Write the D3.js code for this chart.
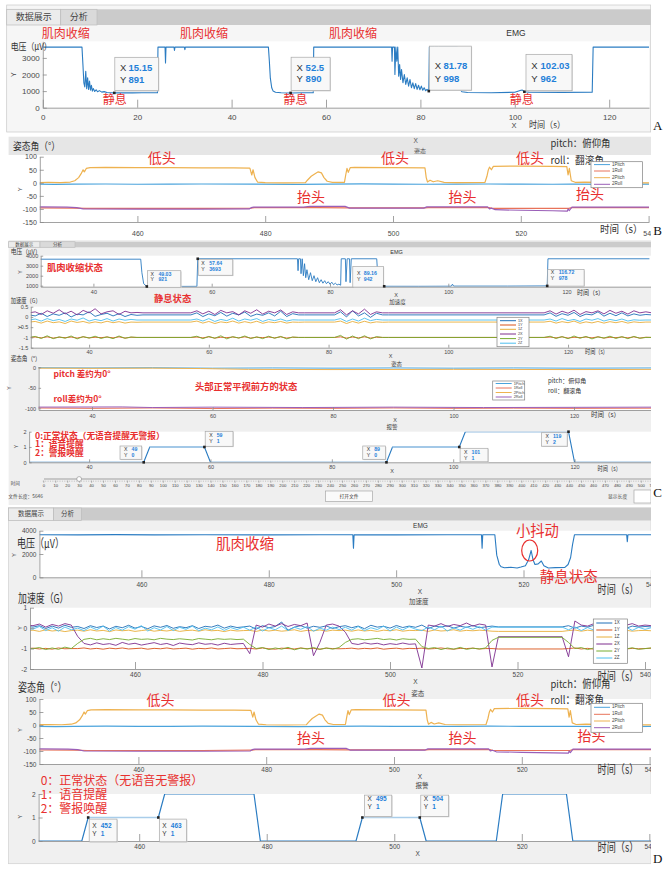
<!DOCTYPE html>
<html>
<head>
<meta charset="utf-8">
<script src="https://cdn.jsdelivr.net/npm/d3@7"></script>
<style>body{margin:0;background:#fff}</style>
</head>
<body>
<script>
// ---------- data ----------
// EMG (panel A, 0-128 s)
const emgA = [[0,3650],[8.3,3650],[8.5,2600],[8.7,1500],[8.9,1250],[9.1,2200],[9.3,1150],[9.5,1800],[9.7,1100],[9.9,1600],[10.1,1050],[10.3,1350],[10.5,1000],[10.7,1150],[11.0,980],[11.3,1080],[11.6,960],[12.0,1030],[12.5,940],[13.0,970],[13.6,920],[14.4,905],[15.15,891],[17,905],[19,895],[21,905],[23,900],[24.3,905],[24.4,3650],[25.9,3650],[26.0,2700],[26.1,3650],[27.8,3650],[27.9,3450],[28.0,3650],[30.0,3650],[30.1,3500],[30.2,3650],[47.8,3650],[48.0,2800],[48.2,1800],[48.5,1200],[48.8,1000],[49.3,930],[50.5,900],[52.5,890],[55,900],[57.3,905],[57.4,3650],[73.9,3650],[74.0,2800],[74.1,3650],[74.5,3650],[74.6,2000],[74.8,3650],[75.0,2800],[75.2,3650],[75.4,1900],[75.6,2600],[75.8,1700],[76.0,2300],[76.3,1500],[76.6,2000],[76.9,1400],[77.2,1800],[77.5,1300],[77.8,1700],[78.1,1200],[78.4,1500],[78.7,1150],[79.0,1450],[79.3,1100],[79.6,1350],[79.9,1080],[80.2,1300],[80.5,1050],[80.8,1200],[81.1,1020],[81.4,1100],[81.78,998],[81.9,3650],[82.9,3650],[83.0,2500],[83.2,3650],[83.7,3650],[83.8,2600],[84.0,3650],[87.8,3650],[88.0,2000],[88.3,1150],[88.8,960],[90,920],[95,905],[100,930],[101.3,1050],[101.6,1060],[102.03,962],[103,940],[110,925],[116.4,935],[116.6,3650],[128.5,3650]];
const tipsA = [[15.15,891],[52.5,890],[81.78,998],[102.03,962]];

// attitude angles (panels B and D, 444-541 s)
const pitch1 = [[444,-5],[447,-6],[450,-5],[455,-4.5],[460,-5.5],[465,-5],[470,-4.5],[478,-5],[485,-6],[490,-5],[495,-4],[500,-5],[505,-5.5],[510,-5],[515,-4.5],[520,-5],[525,-5.5],[528,-5],[535,-6],[541,-5]];
const roll1 = [[444,-96],[450,-97],[452,-98],[460,-98],[470,-98],[477.8,-97],[478.3,-95],[488,-95],[493,-96],[505,-96],[505.5,-95],[515,-95],[515.5,-98],[527.5,-98],[528,-95],[541,-95]];
const pitch2 = [[444,1],[446,2],[448,1],[449.5,3],[450.2,8],[450.8,20],[451.2,35],[451.5,50],[451.7,42],[452,55],[452.6,58],[455,59],[460,58],[465,58],[470,57.5],[475,57],[477.6,56],[477.9,30],[478.1,50],[478.4,20],[478.8,3],[480,1],[483,0],[486.3,1],[486.6,10],[487.2,25],[487.8,35],[488.3,42],[488.8,38],[489.2,20],[489.7,6],[490.5,2],[492.4,2],[492.6,30],[492.8,55],[493.0,40],[493.3,58],[494,59],[500,58],[505.0,57],[505.2,20],[505.4,3],[505.8,10],[506.3,4],[507,8],[508,2],[510,1],[514.4,2],[514.7,25],[514.9,48],[515.1,60],[515.4,50],[515.7,63],[520,64],[525,63],[527.2,62],[527.4,30],[527.6,55],[527.9,8],[528.5,2],[530,3],[535,1],[541,0]];
const roll2 = [[444,-92],[449,-93],[450.5,-95],[451.5,-100],[460,-101],[470,-101],[477.5,-100],[477.8,-95],[478.2,-93],[486,-93],[487,-90],[492.5,-90],[493.2,-97],[504.8,-97],[505.3,-92],[514.8,-92],[515.1,-100],[515.4,-97],[516,-103],[520,-105],[525,-107],[527.3,-108],[527.4,-100],[527.6,-106],[528,-93],[541,-93]];
const attNames = ["1Pitch","1Roll","2Pitch","2Roll"];

// panel C
const emgC = [[30,3650],[48.0,3650],[48.2,2300],[48.5,1200],[49.03,921],[52,925],[55,930],[57.5,935],[57.64,3693],[74.5,3693],[74.6,2500],[74.7,3693],[75.0,3693],[75.1,2200],[75.3,3693],[75.5,2000],[75.7,3200],[75.9,1800],[76.1,2600],[76.4,1600],[76.7,2300],[77.0,1500],[77.3,2000],[77.6,1400],[77.9,1800],[78.2,1300],[78.5,1600],[78.8,1250],[79.1,1500],[79.4,1200],[79.7,1400],[80.0,1150],[80.3,1350],[80.6,1100],[80.9,1250],[81.2,1080],[81.5,1150],[81.8,1050],[81.9,3693],[82.6,3693],[82.7,1400],[82.9,3693],[83.3,3693],[83.4,1300],[83.6,3693],[87.9,3693],[88.1,1800],[88.4,1000],[89.16,942],[95,940],[100.5,950],[100.7,1150],[100.9,960],[110,960],[116.72,978],[116.85,3693],[134,3693]];
const tipsC = [[49.03,921],[57.64,3693],[89.16,942],[116.72,978]];

const accC_t = [30,31,32,33,34,35,36,37,38,39,40,41,42,43,44,45,46,47,48, 49,57,
  58,59,60,61,62,63,64,65,66,67,68,69,70,71,72,73,74,75, 76,81,
  82,83,84,85,86,87,88,89, 90,116,
  117,118,119,120,121,122,123,124,125,126,127,128,129,130,131,132,133,134];
const accC_1X = [0.1,0.05,0.18,0.02,0.15,0.08,0.2,0.0,0.14,0.1,0.25,0.03,0.12,0.18,0.05,0.16,0.02,0.12,0.08, 0.1,0.1,
  0.2,0.02,0.15,0.06,0.22,0.04,0.18,0.1,0.24,0.03,0.14,0.08,0.2,0.05,0.28,0.02,0.16,0.1, 0.1,0.1,
  0.25,0.0,0.3,0.05,0.2,-0.02,0.18,0.1, 0.1,0.1,
  0.2,0.03,0.16,0.08,0.22,0.02,0.14,0.1,0.25,0.04,0.18,0.06,0.2,0.05,0.15,0.08,0.12,0.1];
const accC_1Y = [-1.0,-0.98,-1.02,-0.97,-1.03,-0.99,-1.01,-0.98,-1.03,-0.97,-1.02,-0.99,-1.01,-0.98,-1.02,-0.97,-1.03,-0.99,-1.0, -1.0,-1.0,
  -0.98,-1.02,-0.97,-1.03,-0.99,-1.01,-0.98,-1.02,-0.97,-1.03,-0.99,-1.01,-0.98,-1.02,-0.97,-1.03,-0.99,-1.0, -1.0,-1.0,
  -0.97,-1.03,-0.98,-1.02,-0.97,-1.03,-0.99,-1.0, -1.0,-1.0,
  -0.98,-1.02,-0.97,-1.03,-0.99,-1.01,-0.98,-1.02,-0.97,-1.03,-0.99,-1.01,-0.98,-1.02,-0.97,-1.03,-0.99,-1.0];
const accC_1Z = [-0.25,-0.22,-0.3,-0.2,-0.28,-0.24,-0.32,-0.2,-0.27,-0.22,-0.3,-0.24,-0.29,-0.21,-0.28,-0.23,-0.3,-0.25,-0.26, -0.25,-0.25,
  -0.2,-0.3,-0.22,-0.32,-0.24,-0.28,-0.2,-0.3,-0.23,-0.29,-0.21,-0.31,-0.24,-0.28,-0.22,-0.3,-0.25,-0.26, -0.25,-0.25,
  -0.2,-0.32,-0.22,-0.3,-0.21,-0.29,-0.24,-0.26, -0.25,-0.25,
  -0.21,-0.3,-0.23,-0.28,-0.2,-0.31,-0.24,-0.29,-0.22,-0.3,-0.23,-0.28,-0.22,-0.3,-0.24,-0.27,-0.25,-0.25];
const accC_2X = [0.2,0.25,0.12,0.3,0.18,0.35,0.15,0.28,0.1,0.32,0.2,0.4,0.15,0.25,0.3,0.12,0.28,0.2,0.22, 0.2,0.2,
  0.3,0.15,0.28,0.12,0.32,0.2,0.26,0.1,0.3,0.18,0.35,0.14,0.28,0.2,0.34,0.12,0.25,0.2, 0.2,0.2,
  0.35,0.1,0.3,0.15,0.38,0.12,0.25,0.2, 0.2,0.2,
  0.3,0.14,0.28,0.18,0.33,0.12,0.26,0.2,0.3,0.15,0.32,0.18,0.28,0.14,0.3,0.2,0.25,0.2];
const accC_2Y = [-1.0,-0.95,-1.05,-0.92,-1.06,-0.97,-1.04,-0.93,-1.07,-0.96,-1.03,-0.94,-1.05,-0.97,-1.06,-0.93,-1.04,-0.98,-1.0, -1.0,-1.0,
  -0.94,-1.06,-0.95,-1.04,-0.92,-1.07,-0.96,-1.03,-0.93,-1.05,-0.97,-1.06,-0.94,-1.04,-0.95,-1.07,-0.98,-1.0, -1.0,-1.0,
  -0.9,-1.08,-0.93,-1.06,-0.92,-1.07,-0.96,-1.0, -1.0,-1.0,
  -0.94,-1.05,-0.96,-1.06,-0.93,-1.04,-0.95,-1.07,-0.97,-1.03,-0.94,-1.05,-0.96,-1.06,-0.95,-1.04,-1.0,-1.0];
const accC_2Z = [-0.15,-0.1,-0.2,-0.08,-0.18,-0.12,-0.22,-0.1,-0.16,-0.05,-0.2,-0.12,-0.18,-0.08,-0.2,-0.1,-0.16,-0.12,-0.15, -0.15,-0.15,
  -0.1,-0.2,-0.08,-0.22,-0.12,-0.18,-0.06,-0.2,-0.1,-0.16,-0.08,-0.22,-0.12,-0.18,-0.1,-0.2,-0.14,-0.15, -0.15,-0.15,
  -0.08,-0.22,-0.1,-0.2,-0.06,-0.18,-0.12,-0.15, -0.15,-0.15,
  -0.1,-0.2,-0.08,-0.18,-0.12,-0.22,-0.1,-0.16,-0.08,-0.2,-0.12,-0.18,-0.1,-0.2,-0.14,-0.16,-0.15,-0.15];
const accNames = ["1X","1Y","1Z","2X","2Y","2Z"];

const attC_p1 = [[30,-1],[40,-1.5],[50,-1],[60,-2],[70,-1.5],[80,-2],[90,-1.5],[100,-2],[110,-1.5],[120,-2],[134,-1.5]];
const attC_r1 = [[30,-99],[40,-100],[50,-99],[60,-100.5],[70,-99.5],[80,-100],[90,-99],[100,-100],[110,-99.5],[120,-100],[134,-99.5]];
const attC_p2 = [[30,-2],[40,-2.5],[50,-2],[58,-3],[62,-4],[66,-5],[80,-5.5],[100,-5],[120,-5.5],[134,-5]];
const attC_r2 = [[30,-97],[45,-96.5],[50,-98],[60,-97],[75,-98],[90,-97],[105,-98],[120,-97.5],[134,-97]];

const alarmC = [[29,0],[49,0],[50,1],[59,1],[60,0],[89,0],[90,1],[101,1],[102,2],[119,2],[120,0],[134,0]];
const tipsAlarmC = [[49,0],[59,1],[89,0],[101,1],[119,2]];
const hiAlarmC = [[[50,1],[59,1]],[[90,1],[101,1]]];

// panel D
const emgD = [[444,3650],[450,3640],[456,3660],[462,3645],[470,3655],[480,3640],[488,3655],[493.2,3650],[493.3,2500],[493.4,3650],[500,3645],[508,3655],[513.4,3650],[513.5,2500],[513.6,3650],[515.5,3650],[515.8,1900],[516.2,1100],[516.5,900],[517,820],[518,860],[519,800],[519.6,880],[520.3,1000],[520.8,1500],[521.2,2300],[521.5,1500],[521.8,1100],[522.3,1150],[522.8,1400],[523.2,1000],[523.9,800],[525,830],[526.5,850],[527,1100],[527.4,1700],[527.7,2800],[528,3650],[536.2,3650],[536.3,3050],[536.4,3650],[541,3650]];

const accD_t = [443,444,445,446,447,448,449,450,
  451,452,453,454,455,456,457,458,459,460,461,462,463,464,465,466,467,468,469,470,471,472,473,474,475,476,477,
  478,479,480,481,482,483,484,485,486,487,488,489,490,491,492,
  493,494,495,496,497,498,499,500,501,502,503,504,
  505,506,507,508,509,510,511,512,513,514,515,
  516,517,527,
  528,529,530,531,532,533,534,535,536,537,538,539,540,541];
const accD_1X = [0.08,0.05,0.12,-0.02,0.1,0.0,0.14,0.04,
  0.08,-0.02,0.12,0.03,0.1,-0.04,0.09,0.02,0.14,0.0,0.08,-0.03,0.11,0.04,0.13,-0.01,0.07,0.02,0.12,-0.02,0.09,0.05,0.15,0.0,0.1,0.03,0.06,
  0.1,-0.05,0.12,0.02,0.08,0.3,-0.1,0.05,0.12,0.0,0.09,0.04,0.11,-0.02,0.07,
  0.12,0.02,0.1,-0.03,0.14,0.05,0.09,0.0,0.13,0.03,0.1,0.04,
  0.15,-0.02,0.1,0.05,0.12,0.0,0.09,0.04,0.13,0.02,0.06,
  0.1,0.06,0.06,
  0.12,0.0,0.1,0.05,0.14,0.02,0.09,0.04,0.12,-0.01,0.1,0.05,0.08,0.06];
const accD_1Y = [-1.0,-0.98,-1.02,-0.99,-1.03,-0.97,-1.01,-1.0,
  -1.0,-0.97,-1.02,-0.99,-1.03,-0.98,-1.01,-0.97,-1.02,-1.0,-0.98,-1.03,-0.99,-1.01,-0.97,-1.02,-1.0,-0.98,-1.03,-0.99,-1.01,-0.97,-1.02,-1.0,-0.98,-1.01,-1.0,
  -0.99,-1.02,-0.97,-1.01,-1.03,-0.98,-1.0,-1.02,-0.97,-1.01,-0.99,-1.03,-0.98,-1.0,-1.01,
  -1.0,-0.98,-1.02,-0.99,-1.01,-0.97,-1.03,-1.0,-0.98,-1.02,-0.99,-1.0,
  -0.98,-1.02,-1.0,-0.97,-1.01,-1.03,-0.99,-1.0,-0.98,-1.02,-1.0,
  -1.0,-1.02,-1.02,
  -1.0,-0.97,-1.02,-0.99,-1.03,-0.98,-1.01,-1.0,-0.97,-1.02,-0.99,-1.01,-1.0,-0.98];
const accD_1Z = [-0.12,-0.1,-0.16,-0.08,-0.14,-0.11,-0.17,-0.12,
  -0.1,-0.15,-0.08,-0.14,-0.11,-0.17,-0.09,-0.13,-0.1,-0.16,-0.12,-0.08,-0.15,-0.11,-0.14,-0.09,-0.16,-0.12,-0.1,-0.15,-0.08,-0.13,-0.11,-0.17,-0.1,-0.14,-0.12,
  -0.11,-0.16,-0.09,-0.14,-0.1,-0.15,-0.12,-0.08,-0.16,-0.11,-0.13,-0.09,-0.15,-0.1,-0.12,
  -0.1,-0.15,-0.09,-0.14,-0.11,-0.16,-0.1,-0.13,-0.08,-0.15,-0.11,-0.12,
  -0.1,-0.16,-0.09,-0.14,-0.12,-0.08,-0.15,-0.11,-0.13,-0.1,-0.12,
  -0.15,-0.16,-0.16,
  -0.12,-0.09,-0.15,-0.1,-0.14,-0.08,-0.16,-0.11,-0.13,-0.1,-0.15,-0.12,-0.11,-0.13];
const accD_2X = [0.15,0.12,0.2,0.05,0.18,0.1,0.22,0.15,
  -0.4,-0.75,-0.82,-0.72,-0.8,-0.76,-0.84,-0.7,-0.79,-0.74,-0.83,-0.77,-0.71,-0.8,-0.75,-0.85,-0.73,-0.78,-0.81,-0.72,-0.79,-0.76,-0.83,-0.74,-0.8,-0.77,-0.75,
  -1.25,0.15,0.05,0.2,0.1,0.22,0.08,0.18,0.12,0.25,-1.35,-0.7,0.15,0.2,0.1,
  -0.2,-0.75,-0.8,-0.72,-0.78,-0.74,-0.82,-0.76,-0.8,-0.73,-0.79,-0.77,
  -1.95,0.15,0.1,0.22,0.08,0.18,0.12,0.25,0.1,0.2,0.15,
  -1.9,-0.42,-0.42,
  -1.4,0.35,0.15,0.1,0.22,0.12,0.18,0.08,0.2,0.14,0.22,0.1,0.15,0.12];
const accD_2Y = [-1.0,-1.0,-0.95,-1.05,-0.97,-1.04,-0.93,-1.0,
  -0.75,-0.55,-0.5,-0.57,-0.52,-0.56,-0.5,-0.54,-0.58,-0.51,-0.55,-0.53,-0.57,-0.5,-0.54,-0.56,-0.52,-0.55,-0.58,-0.51,-0.54,-0.57,-0.52,-0.55,-0.53,-0.56,-0.54,
  -0.8,-1.0,-0.95,-1.05,-0.97,-1.03,-0.94,-1.06,-0.98,-1.02,-0.95,-1.04,-0.97,-1.03,-0.95,
  -0.7,-0.55,-0.52,-0.57,-0.54,-0.5,-0.56,-0.53,-0.58,-0.52,-0.55,-0.54,
  -0.9,-1.0,-0.95,-1.05,-0.97,-1.03,-0.94,-1.04,-0.98,-1.02,-0.97,
  -0.6,-0.45,-0.45,
  -0.7,-1.0,-0.95,-1.05,-0.97,-1.03,-0.94,-1.06,-0.98,-1.02,-0.96,-1.04,-1.0,-0.97];
const accD_2Z = [-0.02,-0.05,0.08,-0.12,0.02,-0.15,0.05,-0.08,
  0.0,-0.12,0.06,-0.08,0.1,-0.15,0.03,-0.1,0.07,-0.05,0.12,-0.14,0.02,-0.09,0.08,-0.12,0.04,-0.06,0.1,-0.13,0.0,-0.08,0.06,-0.11,0.03,-0.07,0.05,
  -0.1,0.06,-0.14,0.02,-0.08,0.1,-0.12,0.04,-0.06,0.08,-0.15,0.0,-0.1,0.05,-0.07,
  0.04,-0.1,0.08,-0.12,0.02,-0.07,0.1,-0.14,0.05,-0.09,0.07,-0.05,
  -0.12,0.05,-0.08,0.1,-0.14,0.02,-0.1,0.06,-0.06,0.08,-0.1,
  0.05,0.05,0.05,
  -0.08,0.06,-0.12,0.03,-0.1,0.08,-0.14,0.0,-0.07,0.05,-0.11,0.04,-0.06,0.02];

const alarmD = [[444,0],[451,0],[452,1],[463,1],[464,2],[478,2],[479,0],[494,0],[495,1],[504,1],[505,0],[516,0],[517,2],[527,2],[528,0],[541,0]];
const tipsAlarmD = [[452,1],[463,1],[495,1],[504,1]];
const hiAlarmD = [[[452,1],[463,1]],[[495,1],[504,1]]];

const ticksA = [0,20,40,60,80,100,120];
const ticksBD = [460,480,500,520,540];
const ticksC = [40,60,80,100,120];

// ---------- styles ----------
const CJK = "'Noto Sans CJK SC','Noto Sans',sans-serif";
const NUM = "'Liberation Sans','DejaVu Sans',sans-serif";
const SERIF = "'Liberation Serif','DejaVu Serif',serif";
const RED = "#e8302f";
const AX = "#8a8a8a";
const LINEC = "#2b7cc2";
const HIC = "#a9cdea";
const TIPC = "#1f80d8";
const PC = ["#4aa3dc","#e8735a","#eeb250","#9a5fb8"];
const AC = ["#1f6fb8","#d95319","#e8ae3a","#7e2f8e","#77ac30","#4dbeee"];

const svg = d3.select("body").append("svg").attr("width",664).attr("height",871);
const defs = svg.append("defs");
let clipN = 0;
function clipRect(x,y,w,h){
  const id = "cl" + (clipN++);
  defs.append("clipPath").attr("id",id).append("rect").attr("x",x).attr("y",y).attr("width",w).attr("height",h);
  return `url(#${id})`;
}
const root = svg.append("g").attr("clip-path", clipRect(0,0,651,871));

function txt(g, x, y, s, o = {}) {
  const t = g.append("text").attr("x",x).attr("y",y).text(s)
    .attr("font-family", o.ff || CJK).attr("font-size", o.fs || 8)
    .attr("fill", o.c || "#333").attr("font-weight", o.fw || "normal")
    .attr("text-anchor", o.a || "start").attr("dominant-baseline","middle");
  if (o.tl) t.attr("textLength", o.tl).attr("lengthAdjust","spacingAndGlyphs");
  if (o.rot) t.attr("transform", `rotate(-90,${x},${y})`);
  return t;
}
function rect(g, x, y, w, h, fill, stroke) {
  const r = g.append("rect").attr("x",x).attr("y",y).attr("width",w).attr("height",h).attr("fill",fill);
  if (stroke) r.attr("stroke",stroke).attr("stroke-width",0.7);
  return r;
}
function tabs(g, y, h, right, t1, t2, fs) {
  rect(g, t1[0], y, right - t1[0], h, "#cbcbcb");
  rect(g, t1[0], y, t1[1]-t1[0], h, "#ececec", "#bdbdbd");
  rect(g, t2[0], y, t2[1]-t2[0], h, "#dadada", "#bdbdbd");
  txt(g, (t1[0]+t1[1])/2, y+h/2, "数据展示", {fs, a:"middle", c:"#444"});
  txt(g, (t2[0]+t2[1])/2, y+h/2, "分析", {fs, a:"middle", c:"#444"});
}

// axes with inward ticks, MATLAB style
function plot(g, c) {
  const ref = d3.scaleLinear().domain([c.xa[0], c.xa[2]]).range([c.xa[1], c.xa[3]]);
  const x = d3.scaleLinear().domain([ref.invert(c.l), ref.invert(c.r)]).range([c.l, c.r]);
  const y = d3.scaleLinear().domain(c.yd).range([c.b, c.t]);
  rect(g, c.l, c.t, c.r - c.l, c.b - c.t, "#fff");
  const lines = g.append("g").attr("clip-path", clipRect(c.l, c.t, c.r - c.l, c.b - c.t));
  const fmt = d => String(d);
  const xg = g.append("g").attr("transform",`translate(0,${c.b})`)
    .call(d3.axisBottom(x).tickValues(c.xt).tickSizeInner(-c.tk[0]).tickSizeOuter(0).tickPadding(c.pad[0]).tickFormat(fmt));
  const yg = g.append("g").attr("transform",`translate(${c.l},0)`)
    .call(d3.axisLeft(y).tickValues(c.yt).tickSizeInner(-c.tk[1]).tickSizeOuter(0).tickPadding(c.pad[1]).tickFormat(fmt));
  for (const a of [xg, yg]) {
    a.select(".domain").attr("stroke", AX).attr("stroke-width", 0.8);
    a.selectAll(".tick line").attr("stroke", AX).attr("stroke-width", 0.8);
    a.selectAll(".tick text").attr("fill","#4a4a4a").attr("font-size", c.fs).attr("font-family", NUM);
  }
  return {x, y, lines};
}
function line(P, data, color, w) {
  P.lines.append("path").datum(data)
    .attr("d", d3.line().x(d => P.x(d[0])).y(d => P.y(d[1])))
    .attr("fill","none").attr("stroke",color).attr("stroke-width",w || 1).attr("stroke-linejoin","round");
}
function legend(g, x, y, w, h, names, colors, rows, fs, lw) {
  rect(g, x, y, w, h, "#fff", "#808080");
  names.forEach((n, i) => {
    g.append("line").attr("x1",x+3).attr("x2",x+3+lw).attr("y1",rows[i]).attr("y2",rows[i])
      .attr("stroke",colors[i]).attr("stroke-width",1);
    txt(g, x+5+lw, rows[i], n, {fs, ff:NUM, c:"#444"});
  });
}
// datatip: o = [dx, dy, w, h, xOff, valOff, row1, row2]
function tip(g, P, d, o, fs) {
  const px = P.x(d[0]), py = P.y(d[1]);
  const bx = px + o[0], by = py + o[1];
  rect(g, bx+0.8, by+0.8, o[2], o[3], "#d6d6d6");
  rect(g, bx, by, o[2], o[3], "#f8f8f8", "#a8a8a8");
  txt(g, bx+o[4], by+o[6], "X", {fs, ff:NUM, c:"#333"});
  txt(g, bx+o[5], by+o[6], String(d[0]), {fs, ff:NUM, c:TIPC, fw:"bold"});
  txt(g, bx+o[4], by+o[7], "Y", {fs, ff:NUM, c:"#333"});
  txt(g, bx+o[5], by+o[7], String(d[1]), {fs, ff:NUM, c:TIPC, fw:"bold"});
  g.append("rect").attr("x",px-1.3).attr("y",py-1.3).attr("width",2.6).attr("height",2.6).attr("fill","#222");
}
function attLines(P) {
  line(P, pitch1, PC[0], 1.2);
  line(P, roll1, PC[1], 1.2);
  line(P, pitch2, PC[2], 1.2);
  line(P, roll2, PC[3], 1.2);
}
function accLines(P, t, series) {
  series.forEach((s, i) => line(P, d3.zip(t, s), AC[i], 0.9));
}

// ---------- panel A ----------
const gA = root.append("g");
rect(gA, 6.7, 5, 644, 127, "#f6f6f6", "#c9c9c9");
tabs(gA, 9.3, 15.7, 651, [6.7,60.7], [60.7,97], 9);
const PA = plot(gA, {l:42.8, r:649, t:41.3, b:107.7, xa:[0,42.8,120,609.2], yd:[0,4000],
  xt:ticksA, yt:[0,1000,2000,3000], tk:[8,4], pad:[6.8,3], fs:8});
line(PA, emgA, LINEC, 1.1);
txt(gA, 516, 34, "EMG", {fs:8.5, ff:NUM, a:"middle"});
txt(gA, 10.7, 47, "电压（μV）", {fs:9.5, tl:41});
txt(gA, 14, 74.7, "Y", {fs:7, ff:NUM, a:"middle", rot:true, c:"#444"});
txt(gA, 514, 126, "X", {fs:7.5, ff:NUM, a:"middle", c:"#444"});
txt(gA, 529, 126, "时间（s）", {fs:9, tl:36});
[41.7,180,329].forEach(x => txt(gA, x, 35, "肌肉收缩", {fs:12, c:RED}));
[102.7,283.6,509.8].forEach(x => txt(gA, x, 101, "静息", {fs:12, c:RED}));
const tipBoxA = [[0.5,-35.6,43.7,33.4,5.2,13.7,11,22.7],[0.5,-35.7,39,33.4,5.5,14.5,11,22.7],
                 [0.5,-45,42,44,5.5,14.2,20,33],[1.6,-37.4,46,36.4,5.2,14.6,12.4,25]];
tipsA.forEach((d,i) => tip(gA, PA, d, tipBoxA[i], 9.5));

// ---------- panel B ----------
const gB = root.append("g");
rect(gB, 8.6, 136.7, 642.4, 18.3, "#e6e6e6");
const PB = plot(gB, {l:39.8, r:649, t:156.7, b:222, xa:[460,137.4,520,520.8], yd:[-150,100],
  xt:ticksBD, yt:[-150,-100,-50,0,50,100], tk:[6,4], pad:[8.8,3], fs:7});
attLines(PB);
txt(gB, 12.9, 146.7, "姿态角（°）", {fs:10.5, tl:47});
txt(gB, 415.6, 141, "X", {fs:6.5, ff:NUM, a:"middle", c:"#555"});
txt(gB, 420, 151, "姿态", {fs:6, a:"middle", c:"#555"});
txt(gB, 550.5, 144.3, "pitch：俯仰角", {fs:10.5, tl:60});
txt(gB, 550.5, 161, "roll：翻滚角", {fs:10.5, tl:53.5});
txt(gB, 20.5, 189.3, "Y", {fs:6, ff:NUM, a:"middle", rot:true, c:"#444"});
txt(gB, 600, 230, "时间（s）", {fs:10.5, tl:42.6});
[147.8,381,516].forEach(x => txt(gB, x, 159.3, "低头", {fs:14, c:RED}));
[[297,198.3],[448.5,198.3],[576,195]].forEach(p => txt(gB, p[0], p[1], "抬头", {fs:14, c:RED}));
legend(gB, 591, 161.7, 51.6, 26, attNames, PC, [164.6,171,177.7,184.3], 4.5, 16);

// ---------- panel C ----------
const gC = root.append("g");
rect(gC, 8.6, 240, 642.4, 265, "#efefef");
tabs(gC, 241.7, 5.6, 651, [8.6,40], [40,75], 4.5);
// EMG
const PCe = plot(gC, {l:40.7, r:651, t:255.7, b:286.7, xa:[40,93.4,100,448.3], yd:[900,4000],
  xt:ticksC, yt:[1000,2000,3000,4000], tk:[3,2.5], pad:[3.1,2.5], fs:5.5});
line(PCe, emgC, LINEC, 0.9);
txt(gC, 10.7, 252.6, "电压（μV）", {fs:6.5, tl:30});
txt(gC, 396.5, 252.7, "EMG", {fs:5.5, ff:NUM, a:"middle"});
txt(gC, 20.5, 272, "Y", {fs:5, ff:NUM, a:"middle", rot:true, c:"#444"});
txt(gC, 396, 296, "X", {fs:5.5, ff:NUM, a:"middle", c:"#444"});
txt(gC, 577, 293.3, "时间（s）", {fs:6.5, tl:27});
txt(gC, 47, 268.3, "肌肉收缩状态", {fs:9.3, c:RED, fw:"bold"});
txt(gC, 154, 299.3, "静息状态", {fs:9.3, c:RED, fw:"bold"});
const tipBoxC = [[0.6,-15.8,33.4,16.6,3,11,3.6,9.3],[0.5,0.5,34.5,16,3,11,4,10],
                 [-31.4,-19.8,30.6,20.6,4.3,11,7.6,13.3],[0.5,-16.4,36.4,16.6,3,11,3.6,9.3]];
tipsC.forEach((d,i) => tip(gC, PCe, d, tipBoxC[i], 5.2));
// acceleration
const PCa = plot(gC, {l:30.8, r:651, t:306.7, b:347.7, xa:[40,89.1,100,448.3], yd:[-1.5,0.5],
  xt:ticksC, yt:[-1.5,-1,-0.5,0,0.5], tk:[3,2.5], pad:[2.7,2.5], fs:5.5});
accLines(PCa, accC_t, [accC_1X, accC_1Y, accC_1Z, accC_2X, accC_2Y, accC_2Z]);
txt(gC, 10.7, 301, "加速度（G）", {fs:6.5, tl:30});
txt(gC, 397.5, 302, "加速度", {fs:5.5, a:"middle", c:"#444"});
txt(gC, 20.5, 327.3, "Y", {fs:5, ff:NUM, a:"middle", rot:true, c:"#444"});
txt(gC, 390.7, 356.7, "X", {fs:5.5, ff:NUM, a:"middle", c:"#444"});
txt(gC, 585, 352.7, "时间（s）", {fs:6.5, tl:23});
legend(gC, 497, 317.3, 32, 29.4, accNames, AC, [320.7,325,329.3,334,338.6,343.2], 3.8, 16);
// attitude
const PCt = plot(gC, {l:38.6, r:651, t:366.5, b:410, xa:[40,92,120,574], yd:[-104,2],
  xt:ticksC, yt:[-100,-50,0], tk:[3,2.5], pad:[3.8,2.5], fs:5.5});
line(PCt, attC_p1, PC[0], 1);
line(PCt, attC_r1, PC[1], 1);
line(PCt, attC_p2, PC[2], 1);
line(PCt, attC_r2, PC[3], 1);
txt(gC, 10.7, 359, "姿态角（°）", {fs:6.5, tl:30});
txt(gC, 396.5, 364, "姿态", {fs:5.5, a:"middle", c:"#444"});
txt(gC, 10, 388, "Y", {fs:5, ff:NUM, a:"middle", rot:true, c:"#444"});
txt(gC, 395, 420.7, "X", {fs:5.5, ff:NUM, a:"middle", c:"#444"});
txt(gC, 591, 415.7, "时间（s）", {fs:6.5, tl:29});
txt(gC, 53.5, 374.3, "pitch 差约为0°", {fs:8.5, c:RED, fw:"bold"});
txt(gC, 53.5, 400, "roll差约为0°", {fs:8.5, c:RED, fw:"bold"});
txt(gC, 195, 387.7, "头部正常平视前方的状态", {fs:9.3, c:RED, fw:"bold"});
legend(gC, 492.7, 381, 32, 19, attNames, PC, [383.5,388,392.5,397], 3.8, 16);
txt(gC, 548, 381.7, "pitch：俯仰角", {fs:6});
txt(gC, 548, 391, "roll：翻滚角", {fs:6});
// alarm
const PCw = plot(gC, {l:29.1, r:651, t:431.7, b:462.3, xa:[40,89.1,100,453.2], yd:[0,2],
  xt:ticksC, yt:[0,1,2], tk:[3,2.5], pad:[2.5,2.5], fs:5.5});
line(PCw, alarmC, LINEC, 1.1);
hiAlarmC.forEach(s => line(PCw, s, HIC, 1.3));
txt(gC, 392, 427.3, "报警", {fs:5.5, a:"middle", c:"#444"});
txt(gC, 17, 446.7, "Y", {fs:5, ff:NUM, a:"middle", rot:true, c:"#444"});
txt(gC, 392, 471.7, "X", {fs:5.5, ff:NUM, a:"middle", c:"#444"});
txt(gC, 597.6, 469.3, "时间（s）", {fs:6.5, tl:23.4});
txt(gC, 35, 436.3, "0:正常状态（无语音提醒无警报）", {fs:8.7, c:RED, fw:"bold"});
txt(gC, 35, 445, "1：语音提醒", {fs:8.7, c:RED, fw:"bold"});
txt(gC, 35, 453.6, "2：警报唤醒", {fs:8.7, c:RED, fw:"bold"});
const tipBoxCw = [[-23.7,-16.3,21.7,13.3,4,11.5,3.3,9.3],[0.8,-15.7,27.8,15,4,11.5,4,10.5],
                  [-23.7,-16.3,22.8,13.3,4,11.5,3.3,9.3],[0.8,1.3,27.9,13.5,4,11.5,4,10],
                  [-27,1,25.7,13.5,4,11.5,4,10]];
tipsAlarmC.forEach((d,i) => tip(gC, PCw, d, tipBoxCw[i], 5.2));
// time slider and bottom controls
const sl = d3.scaleLinear().domain([0,500]).range([43.3,640.8]);
txt(gC, 10.7, 483.3, "时间", {fs:4.5, c:"#444"});
rect(gC, 44, 478.2, 607, 1.6, "#bdbdbd");
const slAxis = gC.append("g").attr("transform","translate(0,480.6)")
  .call(d3.axisBottom(sl).tickValues(d3.range(0,520,10)).tickSize(2.2).tickSizeOuter(0).tickPadding(1));
slAxis.select(".domain").remove();
slAxis.selectAll(".tick line").attr("stroke","#777").attr("stroke-width",0.5);
slAxis.selectAll(".tick text").attr("font-size",4.2).attr("font-family",NUM).attr("fill","#444");
gC.append("g").selectAll("line").data(d3.range(0,512,2)).join("line")
  .attr("x1",d=>sl(d)).attr("x2",d=>sl(d)).attr("y1",480.6).attr("y2",481.8)
  .attr("stroke","#888").attr("stroke-width",0.4);
gC.append("circle").attr("cx",sl(30)).attr("cy",479).attr("r",2.4).attr("fill","#fff").attr("stroke","#888").attr("stroke-width",0.6);
txt(gC, 8.3, 496.7, "文件长度：5646", {fs:4.8, c:"#444"});
rect(gC, 325.6, 491, 47, 10.5, "#fafafa", "#a8a8a8");
txt(gC, 349, 496.3, "打开文件", {fs:4.8, a:"middle", c:"#333"});
txt(gC, 608, 497, "显示长度", {fs:4.8, c:"#444"});
rect(gC, 634, 490, 17, 13, "#fff", "#a8a8a8");

// ---------- panel D ----------
const gD = root.append("g");
rect(gD, 8.6, 507.7, 642.4, 356, "#f0f0f0", "#d0d0d0");
tabs(gD, 508, 12.5, 651, [8.6,53.6], [53.6,81.4], 6.5);
// EMG
const PDe = plot(gD, {l:39.4, r:651, t:530.7, b:577.3, xa:[460,141.4,520,523.5], yd:[0,4000],
  xt:ticksBD, yt:[0,2000,4000], tk:[7,4], pad:[5.4,3], fs:6.5});
line(PDe, emgD, LINEC, 1.1);
txt(gD, 420.5, 526.7, "EMG", {fs:6.5, ff:NUM, a:"middle"});
txt(gD, 17, 545, "电压（μV）", {fs:12, tl:47});
txt(gD, 15, 555, "Y", {fs:5.5, ff:NUM, a:"middle", rot:true, c:"#444"});
txt(gD, 419.8, 592.7, "X", {fs:6.5, ff:NUM, a:"middle", c:"#444"});
txt(gD, 597.6, 591, "时间（s）", {fs:12, tl:40.7});
txt(gD, 216, 545, "肌肉收缩", {fs:14.5, c:RED});
txt(gD, 516, 531.7, "小抖动", {fs:14.3, c:RED});
gD.append("ellipse").attr("cx",529.7).attr("cy",550.5).attr("rx",8).attr("ry",10.5)
  .attr("fill","none").attr("stroke",RED).attr("stroke-width",1.2);
txt(gD, 539.8, 578.3, "静息状态", {fs:14.5, c:RED});
// acceleration
const PDa = plot(gD, {l:30, r:651, t:607.7, b:669, xa:[460,135,520,517.5], yd:[-2,1],
  xt:ticksBD, yt:[-2,-1,0,1], tk:[7,4], pad:[3.7,3], fs:6.5});
accLines(PDa, accD_t, [accD_1X, accD_1Y, accD_1Z, accD_2X, accD_2Y, accD_2Z]);
txt(gD, 18, 600, "加速度（G）", {fs:12, tl:50.5});
txt(gD, 418.7, 602.3, "加速度", {fs:6.5, a:"middle", c:"#444"});
txt(gD, 20.5, 628, "Y", {fs:5.5, ff:NUM, a:"middle", rot:true, c:"#444"});
txt(gD, 415.5, 682.3, "X", {fs:6.5, ff:NUM, a:"middle", c:"#444"});
txt(gD, 597.6, 677.5, "时间（s）", {fs:12, tl:40.7});
legend(gD, 593.3, 619, 34.3, 44.3, accNames, AC, [623,630,637,644,651,658], 4.5, 16);
// attitude
txt(gD, 417.7, 694, "姿态", {fs:6.5, a:"middle", c:"#444"});
const PDt = plot(gD, {l:39.4, r:651, t:699, b:764, xa:[460,138.4,520,521.8], yd:[-150,100],
  xt:ticksBD, yt:[-150,-100,-50,0,50,100], tk:[7,4], pad:[3.7,3], fs:6.5});
attLines(PDt);
txt(gD, 18, 689, "姿态角（°）", {fs:12, tl:48.4});
txt(gD, 550.5, 685, "pitch：俯仰角", {fs:11, tl:60});
txt(gD, 550.5, 701, "roll：翻滚角", {fs:11, tl:53.5});
txt(gD, 20.5, 730, "Y", {fs:5.5, ff:NUM, a:"middle", rot:true, c:"#444"});
txt(gD, 597.6, 770.5, "时间（s）", {fs:12, tl:40.7});
txt(gD, 419.8, 777.7, "X", {fs:6.5, ff:NUM, a:"middle", c:"#444"});
txt(gD, 422, 786.7, "报警", {fs:6.5, a:"middle", c:"#444"});
[146.5,382.6,516].forEach(x => txt(gD, x, 701.7, "低头", {fs:14, c:RED}));
[[297,739],[448.5,739],[577.5,737]].forEach(p => txt(gD, p[0], p[1], "抬头", {fs:14, c:RED}));
legend(gD, 591, 703.3, 51.6, 29, attNames, PC, [707.3,714.3,721,727.7], 4.5, 16);
// alarm
const PDw = plot(gD, {l:38.6, r:651, t:794, b:841, xa:[460,139.2,520,521.8], yd:[0,2],
  xt:ticksBD, yt:[0,1,2], tk:[7,4], pad:[3.4,3], fs:6.5});
line(PDw, alarmD, LINEC, 1.2);
hiAlarmD.forEach(s => line(PDw, s, HIC, 1.4));
txt(gD, 40.7, 781.7, "0：正常状态（无语音无警报）", {fs:12, c:RED});
txt(gD, 40.7, 795.7, "1：语音提醒", {fs:12, c:RED});
txt(gD, 40.7, 810, "2：警报唤醒", {fs:12, c:RED});
txt(gD, 20.5, 816.7, "Y", {fs:5.5, ff:NUM, a:"middle", rot:true, c:"#444"});
txt(gD, 597.6, 848.8, "时间（s）", {fs:12, tl:40.7});
txt(gD, 417.7, 854.3, "X", {fs:6.5, ff:NUM, a:"middle", c:"#444"});
const tipBoxD = [[1,1.6,27.8,22.7,3,11.5,7,15],[1,1.6,27.3,22.7,3,11.5,7,15],
                 [2,-22.4,27.4,21.4,3,11.5,4.5,12.5],[1,-22.4,27.9,21.4,3,11.5,4.5,12.5]];
tipsAlarmD.forEach((d,i) => tip(gD, PDw, d, tipBoxD[i], 6.5));

// panel letters
[["A",127],["B",232],["C",494],["D",860]].forEach(p =>
  txt(svg, 657.6, p[1], p[0], {fs:13, ff:SERIF, a:"middle", c:"#111"}));
</script>
</body>
</html>
